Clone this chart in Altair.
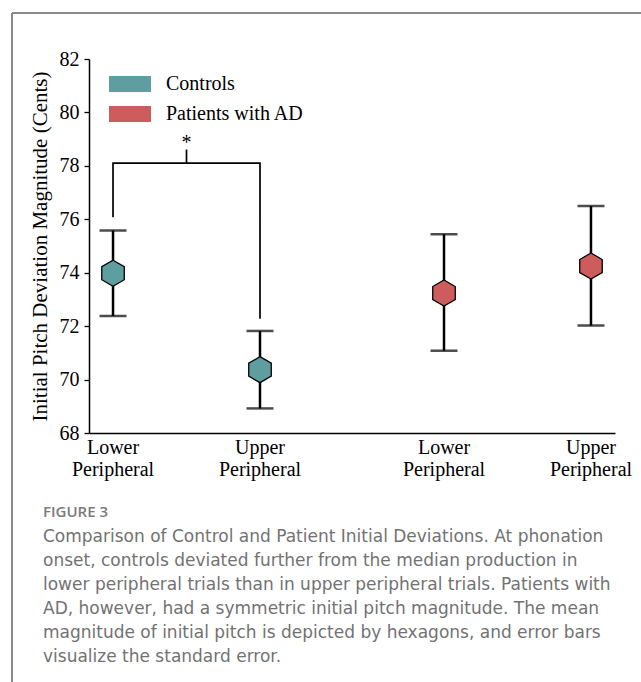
import altair as alt
import pandas as pd

# ---- data ----
groups = ["Controls", "Controls", "Patients with AD", "Patients with AD"]
conditions = ["Lower", "Upper", "Lower", "Upper"]
means = [73.98, 70.37, 73.24, 74.25]
err_low = [72.38, 68.92, 71.08, 72.02]
err_high = [75.58, 71.82, 75.44, 76.50]
x_labels = ["Lower\nPeripheral", "Upper\nPeripheral", "Lower\nPeripheral", "Upper\nPeripheral"]

group_names = ["Controls", "Patients with AD"]
condition_names = ["Lower", "Upper"]
group_colors = ["#5f9ea0", "#cd5c5c"]

# significance bracket (Controls: Lower vs Upper)
bracket_group = ["Controls", "Controls", "Controls", "Controls"]
bracket_cond = ["Lower", "Lower", "Upper", "Upper"]
bracket_y = [76.08, 78.10, 78.10, 72.28]
bracket_order = [0, 1, 2, 3]
bracket_mid = [78.10, 78.61]
sig_label = "*"

y_ticks = [68, 70, 72, 74, 76, 78, 80, 82]
y_title = "Initial Pitch Deviation Magnitude (Cents)"

caption_head = "FIGURE 3"
caption_lines = [
    "Comparison of Control and Patient Initial Deviations. At phonation",
    "onset, controls deviated further from the median production in",
    "lower peripheral trials than in upper peripheral trials. Patients with",
    "AD, however, had a symmetric initial pitch magnitude. The mean",
    "magnitude of initial pitch is depicted by hexagons, and error bars",
    "visualize the standard error.",
]

df = pd.DataFrame({
    "group": groups, "cond": conditions, "mean": means,
    "lo": err_low, "hi": err_high, "label": x_labels,
})
bracket_df = pd.DataFrame({
    "group": bracket_group, "cond": bracket_cond, "y": bracket_y, "order": bracket_order,
})
mid_df = pd.DataFrame({"group": ["Controls"], "y": [bracket_mid[0]], "y2": [bracket_mid[1]], "t": [sig_label]})
one = pd.DataFrame({"a": [0]})

SERIF = "Liberation Serif"
FS = 20
HEX = "M0,-1L0.866,-0.5L0.866,0.5L0,1L-0.866,0.5L-0.866,-0.5Z"
RECT = "M-2.625,-1L2.625,-1L2.625,1L-2.625,1Z"

x_scale = alt.Scale(domain=group_names, paddingInner=0.5, paddingOuter=0.0446)
xo_scale = alt.Scale(domain=condition_names, paddingInner=0.874, paddingOuter=0)
y_scale = alt.Scale(domain=[68, 82], nice=False, zero=False)

X = alt.X("group:N", scale=x_scale,
          axis=alt.Axis(labels=False, ticks=False, title=None, grid=False,
                        domainColor="black", domainWidth=1.5))
XO = alt.XOffset("cond:N", scale=xo_scale)
Y_AX = alt.Axis(values=y_ticks, title=y_title, grid=False,
                labelFont=SERIF, labelFontSize=FS, labelColor="black", labelPadding=5,
                tickSize=5, tickColor="black", tickWidth=1.3,
                domainColor="black", domainWidth=1.5,
                titleFont=SERIF, titleFontSize=21, titleFontWeight="normal",
                titleColor="black", titlePadding=9)

base = alt.Chart(df)

bars = base.mark_rule(color="black", strokeWidth=2.5).encode(
    x=X, xOffset=XO, y=alt.Y("lo:Q", scale=y_scale, axis=Y_AX), y2="hi:Q")
cap_lo = base.mark_tick(orient="horizontal", size=27, thickness=2.5, color="black").encode(
    x=X, xOffset=XO, y=alt.Y("lo:Q"))
cap_hi = base.mark_tick(orient="horizontal", size=27, thickness=2.5, color="black").encode(
    x=X, xOffset=XO, y=alt.Y("hi:Q"))
pts = base.mark_point(shape=HEX, size=676, filled=True, opacity=1,
                      stroke="black", strokeWidth=1.3).encode(
    x=X, xOffset=XO, y=alt.Y("mean:Q"),
    color=alt.Color("group:N", scale=alt.Scale(domain=group_names, range=group_colors),
                    legend=alt.Legend(orient="none", legendX=31, legendY=15, title=None,
                                      symbolType=RECT, symbolSize=256,
                                      symbolStrokeWidth=0, symbolOpacity=1,
                                      labelFont=SERIF, labelFontSize=FS, labelColor="black",
                                      labelOffset=26, rowPadding=10, padding=0)))
xlabels = base.mark_text(font=SERIF, fontSize=FS, color="black", lineBreak="\n",
                         lineHeight=22, baseline="alphabetic", align="center").encode(
    x=X, xOffset=XO, y=alt.value(395), text="label:N")

bracket = alt.Chart(bracket_df).mark_line(color="black", strokeWidth=1.7).encode(
    x=X, xOffset=XO, y=alt.Y("y:Q"), order="order:Q")
mid = alt.Chart(mid_df).mark_rule(color="black", strokeWidth=1.7).encode(
    x=X, y=alt.Y("y:Q"), y2="y2:Q")
star = alt.Chart(mid_df).mark_text(font=SERIF, fontSize=FS, color="black",
                                   baseline="alphabetic", dy=-1).encode(
    x=X, y=alt.Y("y2:Q"), text="t:N")

frame_top = alt.Chart(one).mark_rule(color="#8a8a8a", strokeWidth=2).encode(
    x=alt.value(-77), x2=alt.value(552), y=alt.value(-46))
frame_left = alt.Chart(one).mark_rule(color="#8a8a8a", strokeWidth=2).encode(
    x=alt.value(-77), y=alt.value(-46), y2=alt.value(623))

cap_head = alt.Chart(one).mark_text(font="Open Sans", fontSize=15, fontWeight=600,
                                    color="#7a7a7a", align="left", baseline="alphabetic").encode(
    x=alt.value(-46), y=alt.value(457.7), text=alt.value(caption_head))
cap_body = alt.Chart(one).mark_text(font="DejaVu Sans", fontSize=17, color="#727272",
                                    align="left", baseline="alphabetic",
                                    lineBreak="\n", lineHeight=23.9).encode(
    x=alt.value(-46), y=alt.value(483.3), text=alt.value("\n".join(caption_lines)))

chart = alt.layer(bars, cap_lo, cap_hi, bracket, mid, star, pts, xlabels,
                  frame_top, frame_left, cap_head, cap_body).properties(
    width=526, height=374,
    autosize=alt.AutoSizeParams(type="none"),
    padding={"left": 89, "top": 59, "right": 26, "bottom": 249},
    background="white",
).configure_view(stroke=None)

chart.save("out.html", embed_options={"renderer": "svg", "actions": False})
